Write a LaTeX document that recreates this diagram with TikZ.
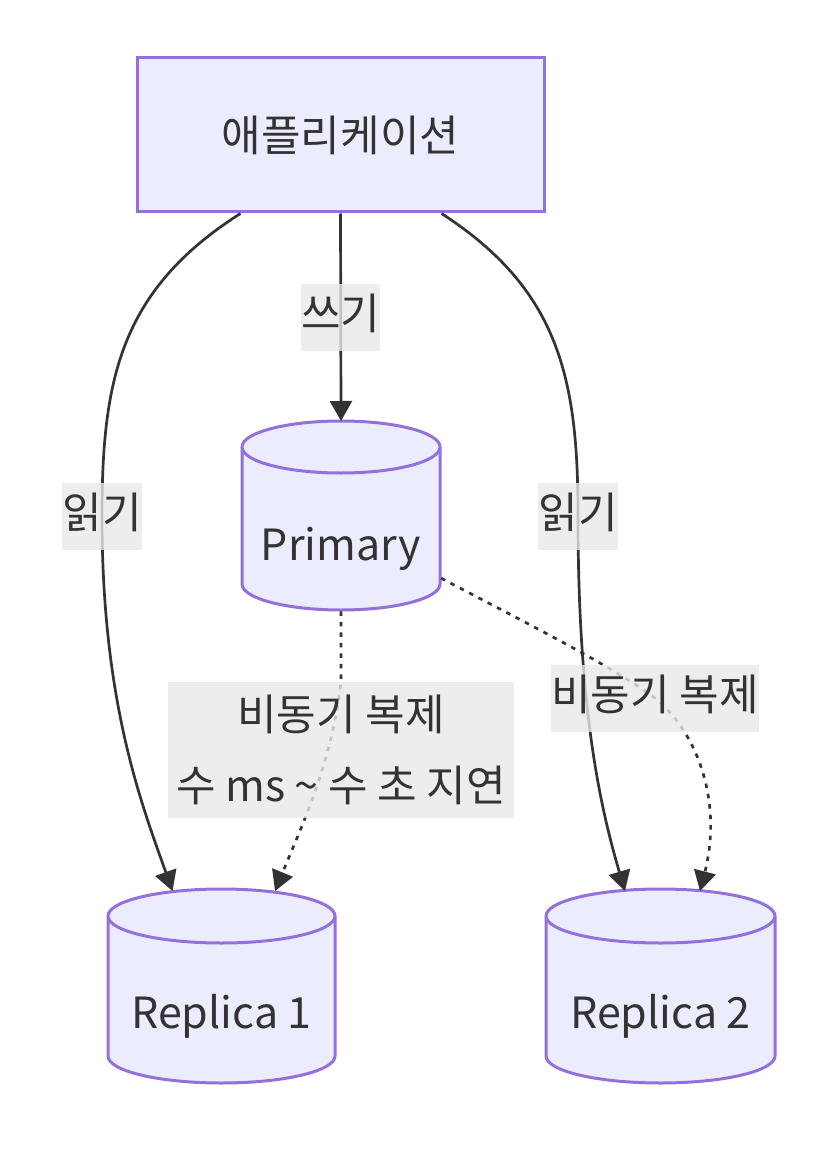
\documentclass[tikz,border=0pt]{standalone}
\usepackage{fontspec}
\setmainfont{Noto Sans CJK KR}
\usetikzlibrary{arrows.meta,calc}

\definecolor{nodefill}{HTML}{ECECFF}
\definecolor{nodeline}{HTML}{9370DB}
\definecolor{ink}{HTML}{333333}
\definecolor{labelbg}{HTML}{E8E8E8}

% cylinder outline: centre x, top ellipse y, bottom ellipse y, x radius, y radius
\newcommand{\dbcyl}[5]{%
  \filldraw[cyl] (#1-#4,#2) -- (#1-#4,#3) arc[start angle=180,end angle=360,x radius=#4,y radius=#5]
    -- (#1+#4,#2) arc[start angle=0,end angle=180,x radius=#4,y radius=#5] -- cycle;
  \draw[cyl] (#1-#4,#2) arc[start angle=180,end angle=360,x radius=#4,y radius=#5];}

\begin{document}
\begin{tikzpicture}[x=1pt,y=1pt]
    % Define styles
    \tikzstyle{cyl}=[draw=nodeline, fill=nodefill, line width=3pt]
    \tikzstyle{appbox}=[draw=nodeline, fill=nodefill, line width=3pt, minimum width=407pt, minimum height=154pt, text=ink, font=\fontsize{43}{50}\selectfont]
    \tikzstyle{dbnode}=[inner sep=0pt, text height=139pt, text depth=51pt, text=ink, font=\fontsize{43}{50}\selectfont]
    \tikzstyle{solidlink}=[draw=ink, line width=2.7pt, -{Triangle[length=20pt,width=22pt]}]
    \tikzstyle{asynclink}=[solidlink, dash pattern=on 4.5pt off 6pt]
    \tikzstyle{lblbase}=[fill=labelbg, fill opacity=0.8, text opacity=1, text=ink]
    \tikzstyle{lbl}=[lblbase, inner xsep=0pt, inner ysep=13pt, text height=33pt, text depth=8pt, font=\fontsize{43}{50}\selectfont]
    \tikzstyle{lbltwo}=[lblbase, align=center, inner xsep=8pt, inner ysep=13pt, font=\fontsize{43}{71}\selectfont]

    \useasboundingbox (0,0) rectangle (834,-1150);

    % Application
    \node[appbox] (app) at (340.5,-135) {애플리케이션};

    % Databases
    \dbcyl{341}{-447}{-584}{99}{26}
    \node[dbnode, minimum width=198pt, anchor=north] (primary) at (341,-421) {Primary};

    \dbcyl{221.5}{-916}{-1056}{113.5}{27}
    \node[dbnode, minimum width=227pt, anchor=north] (rep1) at (221.5,-889) {Replica 1};

    \dbcyl{660.5}{-916}{-1056}{114.5}{27}
    \node[dbnode, minimum width=229pt, anchor=north] (rep2) at (660.5,-889) {Replica 2};

    % Write
    \draw[solidlink] (app.south) -- node[lbl] {쓰기} (primary.north);

    % Reads
    \draw[solidlink] ($(app.south)+(-100,0)$) .. controls (120,-290) and (102,-380) .. (102,-516) node[lbl] {읽기}
        .. controls (102,-700) and (140,-800) .. ($(rep1.north)+(-49,-2)$);
    \draw[solidlink] ($(app.south)+(101,0)$) .. controls (560,-290) and (578,-380) .. (578,-516) node[lbl] {읽기}
        .. controls (578,-700) and (598,-800) .. ($(rep2.north)+(-35.5,-2)$);

    % Async replication
    \draw[asynclink] (primary.south) -- (341,-681) node[lbltwo, anchor=north] {비동기 복제\\수 ms \textasciitilde{} 수 초 지연}
        .. controls (333,-760) and (300,-830) .. ($(rep1.north)+(53.5,-2)$);
    \draw[asynclink] ($(primary.east)+(1,-62)$) .. controls (530,-625) and (610,-665) .. (655,-698) node[lbl] {비동기 복제}
        .. controls (700,-735) and (722,-805) .. ($(rep2.north)+(39.5,-2)$);
\end{tikzpicture}
\end{document}
